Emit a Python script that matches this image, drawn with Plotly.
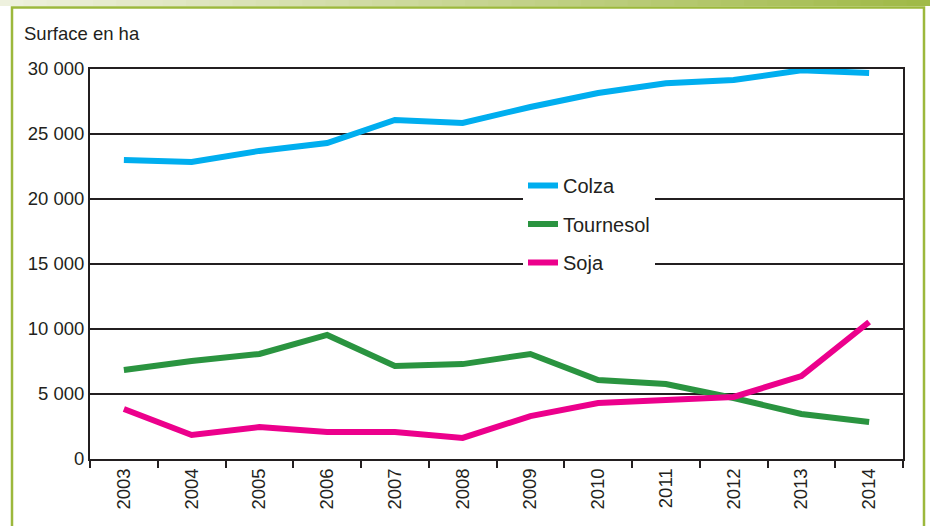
import plotly.graph_objects as go

years = ["2003", "2004", "2005", "2006", "2007", "2008", "2009", "2010", "2011", "2012", "2013", "2014"]
colza = [23000, 22850, 23700, 24300, 26080, 25850, 27080, 28150, 28900, 29150, 29900, 29700]
tournesol = [6850, 7540, 8080, 9540, 7150, 7300, 8080, 6080, 5770, 4690, 3460, 2850]
soja = [3850, 1850, 2460, 2080, 2080, 1620, 3300, 4300, 4540, 4770, 6380, 10540]
y_ticks = [0, 5000, 10000, 15000, 20000, 25000, 30000]
y_labels = ["0", "5 000", "10 000", "15 000", "20 000", "25 000", "30 000"]

W, H = 930, 526
L, R, T, B = 90, 27, 69, 67
pw, ph = W - L - R, H - T - B

def px(x):
    return (x - L) / pw

def py(y):
    return (H - B - y) / ph

fig = go.Figure()
series = [("Colza", colza, "#00aeef"), ("Tournesol", tournesol, "#2a9440"), ("Soja", soja, "#ec008c")]
for name, vals, col in series:
    fig.add_trace(go.Scatter(x=years, y=vals, name=name, mode="lines",
                             line=dict(color=col, width=6), legendgroup=name,
                             hoverinfo="skip"))

shapes = []
# top gradient band
c0 = (238, 241, 222)
c1 = (160, 186, 72)
n = 40
for i in range(n):
    t = i / (n - 1)
    c = tuple(int(c0[k] + (c1[k] - c0[k]) * t) for k in range(3))
    shapes.append(dict(type="rect", xref="paper", yref="paper", layer="below",
                       x0=px(i * W / n), x1=px((i + 1) * W / n + 1), y0=py(6), y1=py(0),
                       fillcolor="rgb(%d,%d,%d)" % c, line=dict(width=0)))
# frame
shapes.append(dict(type="rect", xref="paper", yref="paper", layer="below",
                   x0=px(12), x1=px(924), y0=py(540), y1=py(7.5),
                   line=dict(color="#9cb83c", width=2.5), fillcolor="rgba(0,0,0,0)"))

fig.update_layout(
    width=W, height=H,
    margin=dict(l=L, r=R, t=T, b=B),
    paper_bgcolor="white", plot_bgcolor="white",
    font=dict(family="Liberation Sans, Arial", color="#231f20", size=18.5),
    shapes=shapes,
    showlegend=True,
    legend=dict(x=px(523), y=py(166), xanchor="left", yanchor="top",
                bgcolor="white", font=dict(size=20), tracegroupgap=9.5,
                traceorder="grouped", itemwidth=30),
    annotations=[dict(text="Surface en ha", xref="paper", yref="paper",
                      x=px(22), y=py(33), xanchor="left", yanchor="middle",
                      showarrow=False, font=dict(size=18.5))],
)
fig.update_xaxes(type="category", range=[-0.5, 11.5], tickangle=-90,
                 ticks="outside", tickson="boundaries", ticklen=7, tickwidth=2,
                 tickcolor="#231f20", showline=True, linecolor="#231f20", linewidth=2,
                 mirror=True, showgrid=False, tickfont=dict(size=18.5))
fig.update_yaxes(range=[0, 30000], tickvals=y_ticks, ticktext=y_labels,
                 showline=True, linecolor="#231f20", linewidth=2, mirror=True,
                 showgrid=True, gridcolor="#231f20", gridwidth=1.5, zeroline=False,
                 ticks="", ticklen=0, tickfont=dict(size=18.5))

fig.write_html("out.html", config={"displayModeBar": False},
               post_script="document.body.style.margin='0';")
